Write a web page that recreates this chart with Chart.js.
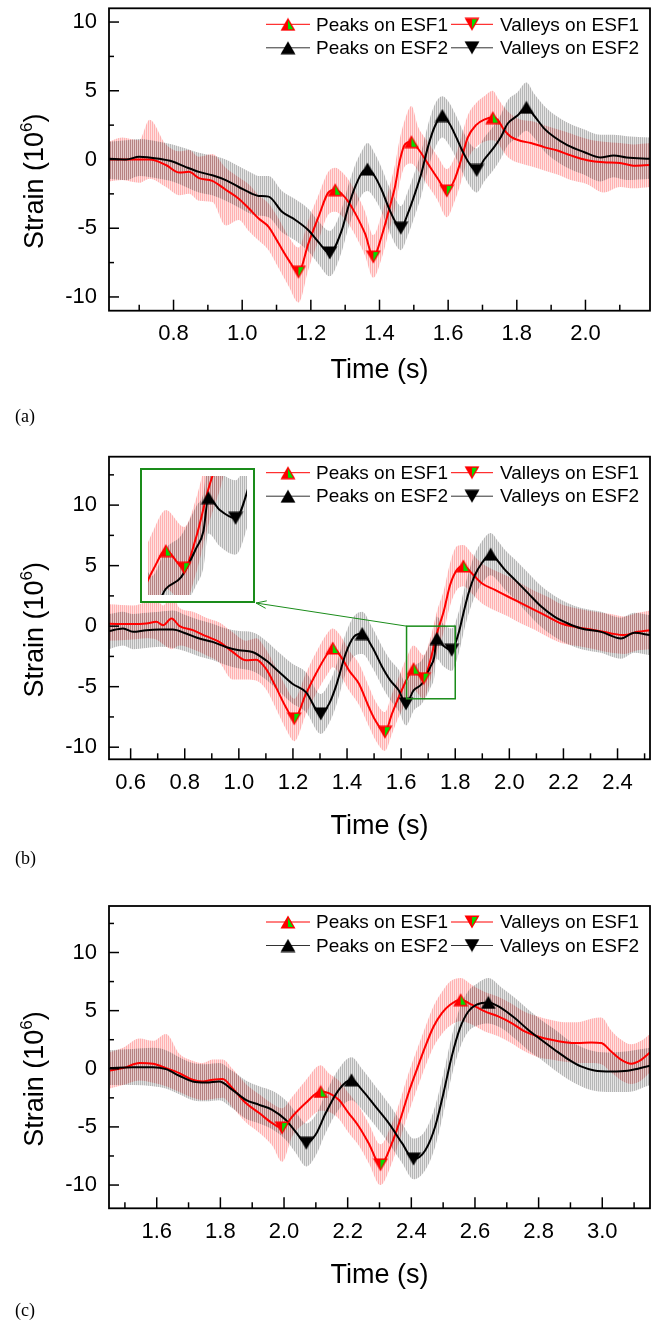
<!DOCTYPE html>
<html>
<head>
<meta charset="utf-8">
<script src="https://cdn.jsdelivr.net/npm/chart.js@4.4.1/dist/chart.umd.min.js"></script>
<style>
  html, body { margin:0; padding:0; background:#fff; }
  #page { position:relative; width:658px; height:1322px; overflow:hidden; background:#fff; }
  #page canvas { position:absolute; left:0; }
</style>
</head>
<body>
<div id="page">
  <canvas id="chartA" width="658" height="448" style="top:0px"></canvas>
  <canvas id="chartB" width="658" height="450" style="top:448px"></canvas>
  <canvas id="chartC" width="658" height="424" style="top:898px"></canvas>
  <canvas id="insetB" width="115" height="135" style="left:140px;top:468px"></canvas>
</div>
<script>
// ---------- PANEL (a) ----------
const aXTicks = [0.8,1.0,1.2,1.4,1.6,1.8,2.0];
const aYTicks = [-10,-5,0,5,10];
const aRedT  = [0.612,0.65,0.70,0.73,0.778,0.817,0.845,0.874,0.913,0.952,0.99,1.019,1.048,1.077,1.106,1.135,1.164,1.193,1.222,1.251,1.271,1.29,1.31,1.329,1.358,1.382,1.406,1.43,1.445,1.459,1.474,1.493,1.512,1.541,1.57,1.596,1.618,1.638,1.657,1.681,1.705,1.73,1.744,1.763,1.783,1.812,1.841,1.88,1.918,1.957,2.005,2.053,2.101,2.14,2.188];
const aRedV  = [0,0,0,0,-0.4,-0.95,-0.9,-1.35,-1.55,-2.2,-2.85,-3.55,-4.3,-4.9,-6.1,-7.3,-8.2,-6.1,-4.2,-2.4,-2.2,-2.5,-3.1,-3.9,-5.4,-7.1,-5.6,-3.45,-2.0,-0.1,1.1,1.3,0.8,-0.3,-1.4,-2.3,-1.5,0.0,1.6,2.5,2.9,3.05,2.9,2.15,1.65,1.35,1.2,0.9,0.65,0.3,-0.05,-0.2,-0.25,-0.45,-0.4];
const aRedHi = [1.3,1.6,1.4,2.9,1.1,0.6,0.7,0.2,0.4,-0.6,-1.3,-1.8,-2.6,-3.2,-4.3,-5.6,-6.4,-4.4,-2.6,-0.9,-0.6,-0.9,-1.5,-2.3,-3.8,-5.5,-4.0,-1.9,-0.4,1.5,2.9,3.9,2.4,1.3,0.2,-0.7,0.1,1.6,3.2,4.1,4.6,5.0,4.5,3.8,3.3,2.9,2.8,2.5,2.2,1.9,1.5,1.3,1.2,1.1,1.2];
const aRedLo = [-1.6,-1.5,-1.7,-1.4,-2.0,-2.6,-2.5,-3.0,-3.1,-4.8,-4.4,-5.2,-5.9,-6.6,-7.9,-9.2,-10.4,-8.0,-5.9,-4.0,-3.8,-4.1,-4.7,-5.5,-7.0,-8.6,-7.2,-5.0,-3.6,-1.7,-0.5,-0.3,-0.8,-1.9,-3.0,-4.2,-3.1,-1.6,0.0,0.9,1.3,1.4,1.2,0.5,0.0,-0.3,-0.5,-0.8,-1.1,-1.5,-1.8,-2.4,-2.0,-2.1,-2.0];
const aBlkT  = [0.612,0.662,0.70,0.758,0.797,0.836,0.874,0.913,0.952,0.99,1.029,1.048,1.077,1.116,1.155,1.193,1.222,1.255,1.29,1.309,1.329,1.348,1.365,1.387,1.406,1.43,1.449,1.462,1.483,1.503,1.522,1.541,1.561,1.583,1.604,1.623,1.643,1.662,1.683,1.705,1.734,1.754,1.773,1.802,1.828,1.85,1.88,1.908,1.947,1.995,2.043,2.082,2.12,2.188];
const aBlkV  = [0.05,0.0,0.2,0.05,-0.15,-0.55,-0.9,-1.15,-1.5,-2.0,-2.5,-2.65,-2.7,-3.8,-4.4,-5.15,-6.0,-6.8,-5.15,-3.45,-2.0,-1.0,-0.7,-1.25,-2.2,-3.7,-4.65,-5.0,-3.9,-2.5,-1.0,0.9,2.4,3.2,2.6,1.65,0.55,-0.3,-0.8,0.0,0.9,1.65,2.6,3.2,3.8,3.2,2.25,1.65,1.05,0.55,0.15,0.3,0.15,0.05];
const aBlkHi = [1.3,1.4,1.5,1.3,1.1,0.8,0.5,0.3,0.0,-0.5,-1.0,-1.2,-1.2,-2.3,-2.9,-3.6,-4.5,-5.2,-3.6,-1.9,-0.4,0.6,1.2,0.4,-0.6,-2.1,-3.0,-3.4,-2.3,-0.9,0.6,2.5,4.0,4.6,4.1,3.2,2.1,1.2,0.8,1.6,2.5,3.3,4.3,4.9,5.6,4.8,3.9,3.3,2.7,2.2,1.8,1.8,1.7,1.6];
const aBlkLo = [-1.4,-1.5,-1.2,-1.4,-1.6,-2.0,-2.4,-2.6,-3.0,-3.5,-4.0,-4.1,-4.2,-5.3,-5.9,-6.7,-7.6,-8.5,-6.7,-5.0,-3.6,-2.6,-2.3,-2.9,-3.8,-5.3,-6.3,-6.6,-5.5,-4.1,-2.6,-0.7,0.8,1.6,1.0,0.1,-1.0,-1.9,-2.4,-1.6,-0.7,0.1,1.0,1.6,2.1,1.6,0.6,0.0,-0.6,-1.1,-1.6,-1.3,-1.5,-1.4];
const aRedPeakT = [1.271,1.493,1.73],  aRedPeakV = [-2.2,1.3,3.05];
const aRedValT  = [1.164,1.382,1.596], aRedValV  = [-8.2,-7.1,-2.3];
const aBlkPeakT = [1.365,1.583,1.828], aBlkPeakV = [-0.7,3.2,3.8];
const aBlkValT  = [1.255,1.462,1.683], aBlkValV  = [-6.8,-5.0,-0.8];

// ---------- PANEL (b) ----------
const bXTicks = [0.6,0.8,1.0,1.2,1.4,1.6,1.8,2.0,2.2,2.4];
const bYTicks = [-10,-5,0,5,10];
const bRedT  = [0.52,0.609,0.658,0.695,0.72,0.751,0.781,0.83,0.879,0.928,0.977,1.027,1.064,1.1,1.137,1.174,1.205,1.248,1.285,1.33,1.347,1.382,1.407,1.444,1.481,1.505,1.54,1.566,1.591,1.622,1.646,1.683,1.708,1.732,1.757,1.781,1.806,1.83,1.861,1.898,1.947,1.996,2.045,2.094,2.143,2.192,2.241,2.315,2.376,2.425,2.474,2.52];
const bRedV  = [0.2,0.17,0.22,0.36,0.08,0.64,0.0,-0.33,-0.83,-1.3,-2.13,-2.82,-2.77,-3.51,-5.04,-6.7,-7.66,-5.59,-3.93,-2.2,-1.8,-2.68,-3.65,-4.76,-6.7,-7.8,-8.77,-7.25,-5.87,-4.34,-3.51,-4.34,-2.82,-0.61,1.19,3.4,4.65,4.98,4.37,3.54,2.99,2.43,1.88,1.33,0.77,0.22,-0.05,-0.33,-0.6,-0.74,-0.47,-0.33];
const bRedHi = [1.8,1.7,2.0,2.2,1.7,2.6,1.5,1.2,0.7,0.3,-0.5,-1.2,-1.0,-1.9,-3.4,-5.0,-6.0,-3.9,-2.2,-0.5,-0.2,-1.0,-2.0,-3.1,-5.0,-6.2,-7.1,-5.6,-4.2,-2.5,-1.6,-2.4,-1.0,1.2,2.9,5.2,6.6,6.7,6.0,5.2,4.6,4.1,3.5,2.9,2.4,1.8,1.5,1.2,1.0,0.8,1.1,1.3];
const bRedLo = [-1.2,-1.1,-1.0,-1.1,-1.5,-1.9,-1.6,-1.9,-2.4,-3.0,-4.4,-4.4,-4.5,-5.2,-6.8,-8.5,-9.5,-7.3,-5.6,-3.9,-3.4,-4.3,-5.3,-6.5,-8.3,-9.4,-10.3,-8.9,-7.5,-6.2,-5.3,-6.0,-4.5,-2.3,-0.5,1.7,3.0,3.3,2.7,1.9,1.3,0.8,0.2,-0.3,-0.9,-1.4,-1.6,-1.9,-2.2,-2.3,-2.0,-1.9];
const bBlkT  = [0.52,0.572,0.609,0.658,0.707,0.756,0.805,0.854,0.903,0.952,1.001,1.05,1.1,1.149,1.198,1.248,1.303,1.334,1.358,1.395,1.425,1.456,1.493,1.53,1.56,1.591,1.618,1.646,1.677,1.708,1.722,1.732,1.755,1.787,1.812,1.83,1.849,1.873,1.898,1.931,1.959,1.984,2.021,2.07,2.119,2.168,2.217,2.266,2.339,2.413,2.462,2.52];
const bBlkV  = [-0.41,-0.19,-0.47,-0.33,-0.28,-0.28,-0.61,-1.02,-1.3,-1.72,-1.99,-2.13,-2.82,-3.79,-4.76,-5.45,-7.25,-6.4,-5.04,-2.27,-0.89,-0.61,-1.72,-3.37,-4.48,-5.3,-6.42,-5.31,-4.76,-3.37,-2.6,-1.02,-1.6,-1.99,-0.61,1.05,2.71,4.23,5.2,5.95,5.34,4.65,3.82,2.71,1.6,0.77,0.22,-0.19,-0.47,-1.02,-0.55,-0.74];
const bBlkHi = [1.0,1.2,1.0,1.1,1.2,1.3,0.9,0.5,0.2,-0.2,-0.4,-0.5,-1.2,-2.2,-3.1,-3.8,-5.6,-4.7,-3.4,-0.6,0.8,1.2,-0.1,-1.7,-2.8,-3.6,-4.7,-3.4,-2.8,-1.4,-0.8,0.8,0.2,-0.2,1.1,2.8,4.4,6.0,7.0,7.7,7.0,6.3,5.5,4.4,3.3,2.5,1.9,1.5,1.2,0.7,1.1,0.9];
const bBlkLo = [-1.9,-1.6,-1.9,-1.8,-1.7,-1.8,-2.1,-2.5,-2.8,-3.2,-3.5,-3.7,-4.4,-5.4,-6.4,-7.1,-8.9,-8.0,-6.7,-3.9,-2.5,-2.3,-3.4,-5.0,-6.1,-7.0,-8.2,-7.0,-6.4,-5.1,-4.3,-2.7,-3.3,-3.7,-2.3,-0.6,1.0,2.5,3.5,4.2,3.7,3.0,2.2,1.0,-0.1,-0.9,-1.5,-1.9,-2.2,-2.7,-2.2,-2.4];
const bRedPeakT = [1.347,1.646,1.83],  bRedPeakV = [-1.8,-3.51,4.98];
const bRedValT  = [1.205,1.54,1.683],  bRedValV  = [-7.66,-8.77,-4.34];
const bBlkPeakT = [1.456,1.732,1.931], bBlkPeakV = [-0.61,-1.02,5.95];
const bBlkValT  = [1.303,1.618,1.787], bBlkValV  = [-7.25,-6.42,-1.99];

// ---------- PANEL (c) ----------
const cXTicks = [1.6,1.8,2.0,2.2,2.4,2.6,2.8,3.0];
const cYTicks = [-10,-5,0,5,10];
const cRedT  = [1.452,1.494,1.546,1.588,1.629,1.671,1.713,1.744,1.776,1.807,1.838,1.88,1.922,1.963,1.994,2.026,2.068,2.115,2.141,2.172,2.203,2.235,2.266,2.303,2.339,2.365,2.391,2.417,2.444,2.47,2.496,2.522,2.555,2.59,2.631,2.673,2.715,2.756,2.798,2.84,2.882,2.923,2.965,2.997,3.028,3.06,3.091,3.122,3.15];
const cRedV  = [-0.14,0.06,0.49,0.43,0.06,-0.37,-0.95,-1.09,-0.95,-0.89,-1.66,-2.95,-3.81,-4.68,-5.1,-4.1,-2.95,-1.95,-2.1,-2.67,-3.81,-4.96,-6.4,-8.26,-6.4,-4.39,-2.1,-0.09,1.92,3.64,4.79,5.51,5.94,5.51,4.93,4.5,3.93,3.21,2.78,2.49,2.29,2.21,2.27,2.21,1.49,0.77,0.43,0.77,1.4];
const cRedHi = [1.4,1.8,2.6,2.4,3.0,1.3,0.7,0.5,0.8,0.8,0.0,-1.3,-2.2,-3.0,-3.4,-2.4,-1.0,0.3,-0.4,-1.0,-2.1,-3.2,-4.7,-6.5,-4.7,-2.7,-0.4,1.6,3.6,5.4,6.6,7.5,7.8,7.2,6.6,6.2,5.6,4.9,4.5,4.2,4.0,4.0,4.3,4.4,3.3,2.5,2.1,2.4,3.0];
const cRedLo = [-1.7,-1.4,-1.0,-1.2,-1.5,-2.0,-2.5,-2.7,-2.6,-2.5,-3.3,-4.6,-5.5,-6.6,-8.0,-5.8,-4.6,-3.6,-3.7,-4.3,-5.5,-6.6,-8.1,-10.0,-8.1,-6.0,-3.8,-1.8,0.2,1.9,3.0,3.7,4.1,3.8,3.2,2.8,2.2,1.5,1.0,0.8,0.6,0.5,0.5,0.4,-0.3,-1.0,-1.3,-1.0,-0.3];
const cBlkT  = [1.452,1.525,1.588,1.629,1.671,1.713,1.755,1.796,1.838,1.88,1.922,1.963,2.005,2.036,2.07,2.099,2.131,2.172,2.212,2.245,2.287,2.329,2.371,2.407,2.444,2.475,2.501,2.527,2.553,2.579,2.605,2.642,2.683,2.725,2.767,2.808,2.85,2.892,2.933,2.975,3.028,3.08,3.15];
const cBlkV  = [0.06,0.14,0.14,-0.03,-0.6,-1.09,-1.18,-1.09,-1.81,-2.67,-3.1,-3.53,-4.39,-5.4,-6.4,-5.68,-3.81,-1.81,-0.95,-1.81,-3.24,-4.68,-6.4,-7.77,-7.0,-4.96,-2.1,1.06,3.5,4.93,5.51,5.71,5.22,4.36,3.36,2.49,1.64,0.83,0.2,-0.14,-0.23,-0.17,0.26];
const cBlkHi = [1.6,1.7,1.8,1.6,1.0,0.5,0.4,0.5,-0.2,-1.0,-1.5,-1.9,-2.7,-3.7,-4.7,-4.0,-2.1,0.0,1.0,0.0,-1.5,-3.0,-4.7,-6.0,-5.3,-3.2,-0.4,2.8,5.3,6.7,7.3,7.8,7.0,6.1,5.1,4.2,3.4,2.5,1.9,1.5,1.4,1.5,1.8];
const cBlkLo = [-1.4,-1.4,-1.5,-1.7,-2.2,-2.7,-2.8,-2.7,-3.4,-4.3,-4.7,-5.2,-6.1,-7.2,-8.4,-7.5,-5.5,-3.5,-2.7,-3.5,-4.9,-6.4,-8.1,-9.5,-8.7,-6.7,-3.8,-0.6,1.8,3.2,3.7,3.9,3.5,2.6,1.6,0.8,-0.1,-0.9,-1.5,-1.9,-2.0,-2.0,-1.4];
const cRedPeakT = [2.115,2.555], cRedPeakV = [-1.95,5.94];
const cRedValT  = [1.994,2.303], cRedValV  = [-5.1,-8.26];
const cBlkPeakT = [2.212,2.642], cBlkPeakV = [-0.95,5.71];
const cBlkValT  = [2.07,2.407],  cBlkValV  = [-6.4,-7.77];

// ---------- helpers ----------
Chart.defaults.font.family = '"Liberation Sans", Arial, sans-serif';
Chart.defaults.color = '#000';

const pts = (t, v) => t.map((x, i) => ({ x, y: v[i] }));

// triangle markers, red ones half filled with green on the right
function triMarker(down, color, green) {
  const c = document.createElement('canvas');
  c.width = 16; c.height = 14;
  const g = c.getContext('2d');
  const tri = d => {
    g.beginPath();
    if (!down) { g.moveTo(8, 0.5 + d * 1.8); g.lineTo(15.5 - d * 1.7, 13.5 - d); g.lineTo(0.5 + d * 1.7, 13.5 - d); }
    else { g.moveTo(0.5 + d * 1.7, 0.5 + d); g.lineTo(15.5 - d * 1.7, 0.5 + d); g.lineTo(8, 13.5 - d * 1.8); }
    g.closePath();
  };
  g.fillStyle = color; tri(0); g.fill();
  if (green) {
    g.save(); g.beginPath(); g.rect(8, 0, 8, 14); g.clip();
    g.fillStyle = '#00e000'; tri(1.4); g.fill(); g.restore();
  }
  return c;
}
const IMG = {
  redUp: triMarker(false, '#ff0000', true),
  redDown: triMarker(true, '#ff0000', true),
  blkUp: triMarker(false, '#000000', false),
  blkDown: triMarker(true, '#000000', false)
};

// fine vertical hatching for the raw (noisy) signal band
function stripes(rgb, alphas) {
  const c = document.createElement('canvas');
  c.width = alphas.length; c.height = 1;
  const g = c.getContext('2d');
  alphas.forEach((a, i) => { g.fillStyle = `rgba(${rgb},${a})`; g.fillRect(i, 0, 1, 1); });
  return c;
}

function buildDatasets(p, ctx) {
  const redFill = ctx.createPattern(stripes('255,40,40', [0.36, 0.14]), 'repeat');
  const blkFill = ctx.createPattern(stripes('40,40,40', [0.34, 0.12]), 'repeat');
  const mark = (t, v, img) => ({ data: pts(t, v), showLine: false, pointStyle: img, pointRadius: 7, pointHoverRadius: 7 });
  const line = (t, v, color) => ({ data: pts(t, v), borderColor: color, borderWidth: 2, pointRadius: 0, fill: false, cubicInterpolationMode: 'monotone' });
  const band = (t, v, bg, fill) => ({ data: pts(t, v), borderColor: 'rgba(0,0,0,0)', borderWidth: 0, pointRadius: 0, fill, backgroundColor: bg, cubicInterpolationMode: 'monotone' });
  return [
    mark(p.redPeakT, p.redPeakV, IMG.redUp),
    mark(p.redValT, p.redValV, IMG.redDown),
    mark(p.blkPeakT, p.blkPeakV, IMG.blkUp),
    mark(p.blkValT, p.blkValV, IMG.blkDown),
    line(p.blkT, p.blkV, '#000000'),
    line(p.redT, p.redV, '#ff0000'),
    band(p.blkT, p.blkHi, blkFill, '+1'),
    band(p.blkT, p.blkLo, blkFill, false),
    band(p.redT, p.redHi, redFill, '+1'),
    band(p.redT, p.redLo, redFill, false)
  ];
}

const legendItems = [
  { col: 0, row: 0, color: '#ff0000', img: IMG.redUp, text: 'Peaks on ESF1' },
  { col: 1, row: 0, color: '#ff0000', img: IMG.redDown, text: 'Valleys on ESF1' },
  { col: 0, row: 1, color: '#333333', img: IMG.blkUp, text: 'Peaks on ESF2' },
  { col: 1, row: 1, color: '#333333', img: IMG.blkDown, text: 'Valleys on ESF2' }
];

// frame, inward ticks, legend, titles, panel label
const decor = {
  id: 'decor',
  afterDatasetsDraw(chart, args, o) {
    if (!o.zoomBox) return;
    const { ctx, scales: { x, y } } = chart;
    const zb = o.zoomBox;
    const x0 = x.getPixelForValue(zb.x0), x1 = x.getPixelForValue(zb.x1);
    const y0 = y.getPixelForValue(zb.y0), y1 = y.getPixelForValue(zb.y1);
    ctx.save();
    ctx.strokeStyle = '#1a8c1a';
    ctx.lineWidth = 1.5;
    ctx.strokeRect(x0, y0, x1 - x0, y1 - y0);
    const [ex, ey] = o.arrowEnd;
    ctx.lineWidth = 1;
    ctx.beginPath(); ctx.moveTo(x0, y0); ctx.lineTo(ex, ey); ctx.stroke();
    const ang = Math.atan2(y0 - ey, x0 - ex);
    ctx.beginPath();
    ctx.moveTo(ex + 11 * Math.cos(ang + 0.35), ey + 11 * Math.sin(ang + 0.35));
    ctx.lineTo(ex, ey);
    ctx.lineTo(ex + 11 * Math.cos(ang - 0.35), ey + 11 * Math.sin(ang - 0.35));
    ctx.stroke();
    ctx.restore();
  },
  afterDraw(chart, args, o) {
    const { ctx, chartArea: a, scales: { x, y } } = chart;
    ctx.save();
    ctx.strokeStyle = '#000';
    ctx.lineWidth = 1.5;
    const seg = (x1, y1, x2, y2) => { ctx.beginPath(); ctx.moveTo(x1, y1); ctx.lineTo(x2, y2); ctx.stroke(); };
    // major ticks at the labelled values, minor ticks halfway
    const xs = o.xTicks, ys = o.yTicks;
    const dx = xs[1] - xs[0], dy = ys[1] - ys[0];
    for (let v = xs[0] - dx / 2; v <= x.max + 1e-9; v += dx / 2) {
      if (v < x.min - 1e-9) continue;
      const major = xs.some(t => Math.abs(t - v) < 1e-6);
      const px = x.getPixelForValue(v);
      seg(px, a.bottom, px, a.bottom - (major ? 11 : 6));
    }
    for (let v = ys[0] - dy / 2; v <= y.max + 1e-9; v += dy / 2) {
      if (v < y.min - 1e-9) continue;
      const major = ys.some(t => Math.abs(t - v) < 1e-6);
      const py = y.getPixelForValue(v);
      seg(a.left, py, a.left + (major ? 10 : 5), py);
    }
    ctx.lineWidth = 1.8;
    ctx.strokeRect(a.left, a.top, a.right - a.left, a.bottom - a.top);

    // legend
    const cols = [{ l0: -384, l1: -340, tx: -334 }, { l0: -199, l1: -157, tx: -150 }];
    const rows = [16, 39.5];
    ctx.font = '19px "Liberation Sans", Arial, sans-serif';
    ctx.textBaseline = 'middle';
    ctx.textAlign = 'left';
    ctx.fillStyle = '#000';
    legendItems.forEach(it => {
      const c = cols[it.col], ry = a.top + rows[it.row];
      ctx.strokeStyle = it.color;
      ctx.lineWidth = 1;
      seg(a.right + c.l0, ry, a.right + c.l1, ry);
      const mx = a.right + (c.l0 + c.l1) / 2;
      ctx.drawImage(it.img, mx - it.img.width / 2, ry - it.img.height / 2);
      ctx.fillText(it.text, a.right + c.tx, ry + 1);
    });

    // x title
    ctx.font = '27px "Liberation Sans", Arial, sans-serif';
    ctx.textAlign = 'center';
    ctx.fillText('Time (s)', (a.left + a.right) / 2, a.bottom + o.timeOff);

    // y title with superscript
    ctx.save();
    ctx.translate(43, a.top + 173);
    ctx.rotate(-Math.PI / 2);
    ctx.textAlign = 'left';
    ctx.textBaseline = 'alphabetic';
    const big = '27px "Liberation Sans", Arial, sans-serif', small = '17px "Liberation Sans", Arial, sans-serif';
    ctx.font = big; const w1 = ctx.measureText('Strain (10').width, w3 = ctx.measureText(')').width;
    ctx.font = small; const w2 = ctx.measureText('6').width;
    const sx = -(w1 + w2 + w3) / 2;
    ctx.font = big; ctx.fillText('Strain (10', sx, 0);
    ctx.font = small; ctx.fillText('6', sx + w1, -11);
    ctx.font = big; ctx.fillText(')', sx + w1 + w2, 0);
    ctx.restore();

    // panel label
    ctx.font = '18px "Liberation Serif", "Times New Roman", serif';
    ctx.textAlign = 'left';
    ctx.textBaseline = 'middle';
    ctx.fillText(o.label, 15, a.bottom + o.labelOff);
    ctx.restore();
  }
};

function makePanel(id, p, cfg) {
  const canvas = document.getElementById(id);
  return new Chart(canvas, {
    type: 'line',
    data: { datasets: buildDatasets(p, canvas.getContext('2d')) },
    options: {
      responsive: false, animation: false, events: [], devicePixelRatio: 1,
      layout: { padding: { left: 0, right: 6, top: cfg.padTop, bottom: 0 } },
      scales: {
        x: {
          type: 'linear', min: cfg.xMin, max: cfg.xMax,
          grid: { display: false, drawTicks: false }, border: { display: false },
          afterBuildTicks: s => { s.ticks = cfg.xTicks.map(v => ({ value: v })); },
          afterFit: s => { s.height = cfg.xAxisH; s.paddingLeft = 0; s.paddingRight = 0; },
          ticks: { autoSkip: false, maxRotation: 0, padding: 10, font: { size: 22 }, callback: v => v.toFixed(1) }
        },
        y: {
          type: 'linear', min: cfg.yMin, max: cfg.yMax,
          grid: { display: false, drawTicks: false }, border: { display: false },
          afterBuildTicks: s => { s.ticks = cfg.yTicks.map(v => ({ value: v })); },
          afterFit: s => { s.width = 109; s.paddingTop = 0; s.paddingBottom = 0; },
          ticks: { autoSkip: false, padding: 12, font: { size: 22 }, callback: v => String(v) }
        }
      },
      plugins: { legend: { display: false }, tooltip: { enabled: false }, decor: cfg }
    },
    plugins: [decor]
  });
}

const panelA = { redT: aRedT, redV: aRedV, redHi: aRedHi, redLo: aRedLo, blkT: aBlkT, blkV: aBlkV, blkHi: aBlkHi, blkLo: aBlkLo,
  redPeakT: aRedPeakT, redPeakV: aRedPeakV, redValT: aRedValT, redValV: aRedValV,
  blkPeakT: aBlkPeakT, blkPeakV: aBlkPeakV, blkValT: aBlkValT, blkValV: aBlkValV };
const panelB = { redT: bRedT, redV: bRedV, redHi: bRedHi, redLo: bRedLo, blkT: bBlkT, blkV: bBlkV, blkHi: bBlkHi, blkLo: bBlkLo,
  redPeakT: bRedPeakT, redPeakV: bRedPeakV, redValT: bRedValT, redValV: bRedValV,
  blkPeakT: bBlkPeakT, blkPeakV: bBlkPeakV, blkValT: bBlkValT, blkValV: bBlkValV };
const panelC = { redT: cRedT, redV: cRedV, redHi: cRedHi, redLo: cRedLo, blkT: cBlkT, blkV: cBlkV, blkHi: cBlkHi, blkLo: cBlkLo,
  redPeakT: cRedPeakT, redPeakV: cRedPeakV, redValT: cRedValT, redValV: cRedValV,
  blkPeakT: cBlkPeakT, blkPeakV: cBlkPeakV, blkValT: cBlkValT, blkValV: cBlkValV };

makePanel('chartA', panelA, { xMin: 0.612, xMax: 2.188, yMin: -11, yMax: 11, xTicks: aXTicks, yTicks: aYTicks,
  padTop: 8.3, xAxisH: 137.3, timeOff: 60, labelOff: 107, label: '(a)' });
makePanel('chartB', panelB, { xMin: 0.52, xMax: 2.52, yMin: -11, yMax: 14, xTicks: bXTicks, yTicks: bYTicks,
  padTop: 8.7, xAxisH: 138.7, timeOff: 67, labelOff: 100, label: '(b)',
  zoomBox: { x0: 1.62, x1: 1.80, y0: 0, y1: -6 }, arrowEnd: [256, 155] });
makePanel('chartC', panelC, { xMin: 1.45, xMax: 3.15, yMin: -12, yMax: 14, xTicks: cXTicks, yTicks: cYTicks,
  padTop: 8, xAxisH: 113.7, timeOff: 67, labelOff: 103, label: '(c)' });

// zoomed inset of panel (b)
const insetFrame = {
  id: 'insetFrame',
  beforeDraw(chart) {
    const { ctx, width, height } = chart;
    ctx.save(); ctx.fillStyle = '#fff'; ctx.fillRect(0, 0, width, height); ctx.restore();
  },
  afterDraw(chart) {
    const { ctx, width, height } = chart;
    ctx.save(); ctx.strokeStyle = '#1a8c1a'; ctx.lineWidth = 2;
    ctx.strokeRect(1, 1, width - 2, height - 2); ctx.restore();
  }
};
const insetCanvas = document.getElementById('insetB');
new Chart(insetCanvas, {
  type: 'line',
  data: { datasets: buildDatasets(panelB, insetCanvas.getContext('2d')) },
  options: {
    responsive: false, animation: false, events: [], devicePixelRatio: 1,
    layout: { padding: 0 },
    scales: {
      x: { type: 'linear', display: false, min: 1.61, max: 1.81 },
      y: { type: 'linear', display: false, min: -5.6, max: 0 }
    },
    plugins: { legend: { display: false }, tooltip: { enabled: false } }
  },
  plugins: [insetFrame]
});
</script>
</body>
</html>
